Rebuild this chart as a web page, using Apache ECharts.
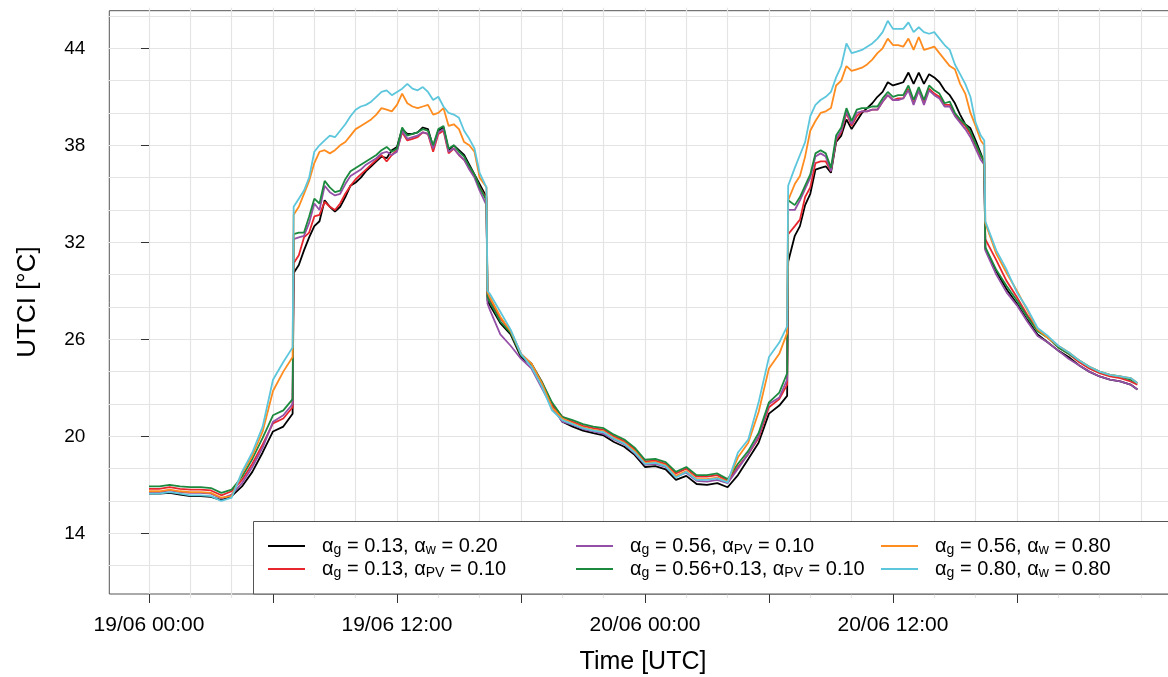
<!DOCTYPE html>
<html><head><meta charset="utf-8">
<script src="https://cdn.jsdelivr.net/npm/echarts@6/dist/echarts.min.js"></script>
<style>html,body{margin:0;padding:0;background:#fff}#c{width:1168px;height:677px}</style>
</head><body><div id="c"></div>
<script>
// ---- data ----
const hours = [
 0,0.5,1,1.5,2,2.5,3,3.5,4,4.5,5,5.5,6,6.5,6.95,
 7,7.25,7.5,7.75,8,8.25,8.5,8.75,9,9.25,9.5,9.75,10,10.25,10.5,10.75,11,11.25,11.5,11.75,12,12.25,12.5,12.75,13,13.25,13.5,13.75,14,14.25,14.5,14.75,15,15.25,15.5,15.75,16,16.33,
 16.38,16.5,17,17.5,18,18.5,19,19.5,20,20.5,21,21.5,22,22.5,23,23.5,24,24.5,25,25.5,26,26.5,27,27.5,28,28.5,29,29.5,30,30.5,30.88,
 30.93,31.25,31.5,31.75,32,32.25,32.5,32.75,33,33.25,33.5,33.75,34,34.25,34.5,34.75,35,35.25,35.5,35.75,36,36.25,36.5,36.75,37,37.25,37.5,37.75,38,38.25,38.5,38.75,39,39.25,39.5,39.75,40,40.25,40.42,
 40.47,41,41.5,42,42.5,43,43.5,44,44.5,45,45.5,46,46.5,47,47.5,47.83
];
const tickHours = [0,6,12,18,24,30,36,42];
const labelHours = [0,12,24,36];
const tickLabels = ['19/06 00:00','19/06 12:00','20/06 00:00','20/06 12:00'];
const yTicks = [14,20,26,32,38,44];
const seriesNames = [
 'α{s|g} = 0.13, α{s|w} = 0.20',
 'α{s|g} = 0.13, α{s|PV} = 0.10',
 'α{s|g} = 0.56, α{s|PV} = 0.10',
 'α{s|g} = 0.56+0.13, α{s|PV} = 0.10',
 'α{s|g} = 0.56, α{s|w} = 0.80',
 'α{s|g} = 0.80, α{s|w} = 0.80'
];
const black = [
 16.45,16.45,16.5,16.4,16.3,16.3,16.25,16.05,16.3,16.9,17.8,19.0,20.3,20.6,21.4,
 30.1,30.6,31.5,32.3,33.0,33.3,34.6,34.2,33.9,34.2,34.8,35.5,35.7,36.0,36.4,36.7,37.0,37.3,37.2,37.7,37.9,39.0,38.7,38.7,38.8,39.1,39.0,37.9,38.9,39.1,37.7,38.0,37.7,37.4,36.8,36.2,35.6,34.8,
 28.4,28.1,27.0,26.3,24.9,24.4,23.3,21.9,20.9,20.6,20.35,20.2,20.05,19.65,19.35,18.85,18.1,18.15,17.95,17.3,17.55,17.05,17.0,17.1,16.85,17.6,18.6,19.6,21.4,21.9,22.5,
 30.8,32.4,33.0,34.3,35.0,36.5,36.6,36.7,36.3,38.2,38.6,39.6,39.0,39.5,40.0,40.3,40.6,41.0,41.3,41.9,41.7,41.8,41.9,42.5,41.8,42.5,41.8,42.4,42.2,41.9,41.4,41.1,40.6,39.9,39.3,39.05,38.3,37.5,36.9,
 31.6,30.2,29.1,28.2,27.2,26.3,25.8,25.3,24.9,24.4,24.0,23.7,23.5,23.4,23.2,22.9
];
const red = [
 16.75,16.75,16.85,16.75,16.7,16.7,16.65,16.35,16.6,17.3,18.3,19.5,20.8,21.1,21.8,
 30.7,31.2,32.3,32.6,33.6,33.7,34.5,34.2,34.0,34.4,35.0,35.5,35.9,36.2,36.5,36.8,37.1,37.4,37.0,37.4,37.7,38.8,38.3,38.4,38.5,38.8,38.7,37.6,38.7,38.9,37.5,37.8,37.4,37.1,36.6,36.1,35.4,34.7,
 28.7,28.4,27.3,26.5,25.1,24.5,23.4,22.0,21.2,20.9,20.65,20.5,20.4,20.0,19.7,19.2,18.45,18.5,18.3,17.7,18.0,17.5,17.5,17.6,17.25,18.1,18.9,19.9,21.8,22.3,23.2,
 32.5,33.0,33.4,34.8,35.4,36.9,37.0,37.0,36.4,38.3,38.8,40.0,39.2,39.8,40.1,40.1,40.2,40.2,40.7,41.1,40.8,40.9,40.9,41.5,40.6,41.4,40.6,41.5,41.2,41.0,40.5,40.5,39.9,39.5,39.2,38.7,38.0,37.3,37.1,
 32.2,30.9,29.6,28.6,27.5,26.6,26.1,25.5,25.1,24.6,24.2,23.9,23.7,23.6,23.4,23.2
];
const purple = [
 16.55,16.55,16.65,16.55,16.5,16.5,16.45,16.15,16.4,17.1,18.1,19.3,20.9,21.3,22.0,
 32.2,32.3,32.4,33.2,34.4,34.0,35.5,35.1,34.9,35.0,35.6,36.1,36.3,36.5,36.8,37.0,37.2,37.5,37.6,37.4,37.6,38.9,38.4,38.5,38.6,38.8,38.7,37.8,38.8,39.0,37.6,37.8,37.4,37.1,36.5,36.0,35.2,34.3,
 28.2,27.8,26.3,25.6,24.8,24.2,23.0,21.8,20.9,20.7,20.45,20.3,20.15,19.8,19.5,18.95,18.25,18.3,18.1,17.5,17.75,17.25,17.2,17.3,17.1,18.0,18.9,20.0,22.0,22.4,23.5,
 34.0,34.0,34.6,35.3,36.0,37.3,37.5,37.3,36.4,38.4,38.9,40.1,39.3,40.0,40.1,40.1,40.2,40.2,40.7,41.1,40.8,40.8,40.9,41.4,40.5,41.4,40.5,41.4,41.1,40.9,40.4,40.4,39.8,39.4,39.0,38.5,37.8,37.1,36.8,
 31.5,30.0,28.9,28.1,27.1,26.2,25.8,25.3,24.8,24.4,24.0,23.7,23.5,23.4,23.2,22.9
];
const green = [
 16.9,16.9,17.0,16.9,16.85,16.85,16.8,16.5,16.7,17.5,18.6,19.9,21.3,21.6,22.3,
 32.5,32.6,32.6,33.6,34.7,34.4,35.8,35.4,35.1,35.2,35.9,36.4,36.6,36.8,37.0,37.2,37.4,37.7,37.9,37.6,37.8,39.1,38.6,38.7,38.8,39.0,38.9,38.0,39.0,39.2,37.8,38.0,37.6,37.3,36.7,36.2,35.4,34.6,
 28.6,28.3,27.1,26.4,25.0,24.5,23.4,22.1,21.2,21.0,20.75,20.6,20.5,20.1,19.8,19.3,18.55,18.6,18.4,17.8,18.1,17.6,17.6,17.7,17.35,18.3,19.1,20.2,22.1,22.7,23.9,
 34.6,34.3,34.8,35.5,36.2,37.5,37.7,37.5,36.6,38.6,39.1,40.3,39.5,40.2,40.3,40.3,40.4,40.4,40.9,41.3,41.0,41.1,41.1,41.7,40.8,41.6,40.8,41.7,41.4,41.2,40.6,40.7,40.0,39.6,39.3,38.85,38.1,37.4,37.0,
 31.7,30.3,29.3,28.4,27.4,26.5,26.1,25.5,25.1,24.7,24.3,24.0,23.8,23.7,23.5,23.3
];
const orange = [
 16.6,16.6,16.7,16.6,16.55,16.55,16.5,16.2,16.3,17.7,18.8,20.3,22.8,24.0,24.9,
 33.7,34.2,35.0,35.8,36.9,37.6,37.7,37.5,37.7,38.0,38.2,38.6,39.0,39.2,39.4,39.6,39.9,40.3,40.2,40.1,40.5,41.2,40.6,40.4,40.3,40.4,40.5,39.9,40.0,40.3,39.2,39.3,39.0,38.2,38.0,37.6,36.0,35.4,
 28.9,28.6,27.4,26.5,25.1,24.5,23.3,21.8,21.1,20.8,20.55,20.4,20.3,19.9,19.6,19.1,18.35,18.4,18.2,17.55,17.85,17.35,17.35,17.45,17.2,18.7,19.6,21.5,24.2,25.1,26.4,
 34.6,35.6,36.1,37.3,38.9,39.5,40.0,40.1,40.3,41.7,42.0,42.9,42.6,42.7,42.8,43.0,43.3,43.7,44.0,44.6,44.2,44.2,44.1,44.6,43.9,44.7,43.9,44.0,44.1,43.7,43.3,42.9,42.7,41.8,41.2,40.0,39.2,38.3,38.0,
 33.2,31.3,30.1,29.0,27.8,26.6,26.1,25.6,25.2,24.7,24.3,24.0,23.8,23.7,23.6,23.3
];
const cyan = [
 16.45,16.45,16.55,16.45,16.35,16.35,16.3,16.0,16.2,17.8,19.0,20.6,23.5,24.6,25.5,
 34.2,34.7,35.2,36.0,37.6,38.0,38.3,38.6,38.5,38.9,39.3,39.8,40.2,40.4,40.5,40.7,41.0,41.3,41.4,41.1,41.3,41.5,41.8,41.5,41.4,41.6,41.3,40.8,41.0,40.4,40.0,39.9,39.7,38.9,38.4,37.8,36.3,35.4,
 29.0,28.8,27.7,26.6,25.1,24.3,23.1,21.6,21.0,20.75,20.5,20.35,20.25,19.85,19.55,19.0,18.3,18.35,18.15,17.45,17.8,17.3,17.3,17.4,17.15,19.0,19.8,22.1,24.9,25.8,26.8,
 35.5,36.6,37.4,38.2,39.8,40.5,40.8,41.0,41.3,42.2,42.9,44.3,43.7,43.8,43.9,44.1,44.3,44.6,45.0,45.7,45.2,45.2,45.2,45.6,45.0,45.3,45.0,44.9,45.0,44.6,44.2,43.9,43.0,42.4,41.8,41.0,39.4,38.6,38.3,
 33.3,31.5,30.3,28.9,27.9,26.7,26.2,25.6,25.2,24.7,24.3,24.0,23.8,23.7,23.6,23.3
];
const seriesValues = [black, red, purple, green, orange, cyan];
const seriesColors = ['#000000','#E8262D','#9450A6','#1B8A3E','#FF8C1F','#5CC6DC'];

// ---- layout ----
const FONT = '"Liberation Sans", Arial, sans-serif';
const X0 = 149, PXH = 20.665;          // pixel of hour 0, px per hour
const Y14 = 533.3, PXD = 16.167;       // pixel of 14 degC, px per degC
const BOX = {l:109.3, t:10.7, r:1177.3, b:594};
const g0 = {left: X0 - 2*PXH, width: 52*PXH, top: Y14 - (46.5-14)*PXD, height: 36.5*PXD};
const xMin1 = (BOX.l - X0)/PXH, xMax1 = (BOX.r - X0)/PXH;
const yMin1 = 14 - (BOX.b - Y14)/PXD, yMax1 = 14 + (Y14 - BOX.t)/PXD;

const chart = echarts.init(document.getElementById('c'), null, {renderer:'canvas'});
const series = seriesValues.map((vals, k) => ({
  name: seriesNames[k], type: 'line', xAxisIndex: 0, yAxisIndex: 0,
  data: hours.map((h, i) => [h, vals[i]]),
  symbol: 'none', lineStyle: {width: 1.8, color: seriesColors[k]}, itemStyle: {color: seriesColors[k]},
  z: 2 + k, animation: false
}));
const legendText = {
  color: '#000', fontFamily: FONT, fontSize: 20, lineHeight: 22, padding: [0,0,0,12],
  rich: { s: {fontFamily: FONT, fontSize: 14, lineHeight: 10, verticalAlign: 'bottom', color: '#000'} }
};
function mkLegend(left, names) {
  return { show: true, orient: 'vertical', left: left, top: 535, padding: 0, itemGap: 1,
    icon: 'rect', itemWidth: 37, itemHeight: 2, data: names, textStyle: legendText, z: 60,
    selectedMode: false, inactiveColor: '#000' };
}
chart.setOption({
  animation: false,
  backgroundColor: '#fff',
  grid: [
    {left: g0.left, top: g0.top, width: g0.width, height: g0.height, show: false,
     containLabel: false, outerBoundsMode: 'none'},
    {left: BOX.l, top: BOX.t, width: BOX.r - BOX.l, height: BOX.b - BOX.t, show: true,
     borderColor: '#555', borderWidth: 1, backgroundColor: 'transparent',
     containLabel: false, outerBoundsMode: 'none'}
  ],
  xAxis: [
    {type: 'value', gridIndex: 0, min: -2, max: 50, interval: 2,
     axisLine: {show: false}, axisTick: {show: false}, axisLabel: {show: false},
     splitLine: {show: true, showMinLine: false, showMaxLine: false, lineStyle: {color: '#e4e4e4', width: 1.2}}},
    {type: 'value', gridIndex: 1, min: xMin1, max: xMax1, position: 'bottom',
     axisLine: {show: false}, splitLine: {show: false},
     axisTick: {show: true, length: 9, customValues: tickHours, lineStyle: {color: '#333', width: 1}},
     axisLabel: {show: true, customValues: labelHours, margin: 21, color: '#000', fontFamily: FONT, fontSize: 21,
       formatter: v => { const i = labelHours.indexOf(Math.round(v)); return i >= 0 ? tickLabels[i] : ''; }}}
  ],
  yAxis: [
    {type: 'value', gridIndex: 0, min: 10, max: 46.5, interval: 2,
     axisLine: {show: false}, axisTick: {show: false}, axisLabel: {show: false},
     splitLine: {show: true, showMinLine: false, showMaxLine: false, lineStyle: {color: '#e4e4e4', width: 1.2}}},
    {type: 'value', gridIndex: 1, min: yMin1, max: yMax1, position: 'left',
     axisLine: {show: false}, splitLine: {show: false},
     axisTick: {show: true, length: 8, customValues: yTicks, lineStyle: {color: '#333', width: 1}},
     axisLabel: {show: true, customValues: yTicks, margin: 24, color: '#000', fontFamily: FONT, fontSize: 19,
       formatter: v => String(Math.round(v))}}
  ],
  legend: [
    mkLegend(268, [seriesNames[0], seriesNames[1]]),
    mkLegend(576, [seriesNames[2], seriesNames[3]]),
    mkLegend(881, [seriesNames[4], seriesNames[5]])
  ],
  graphic: [
    {type: 'rect', z: 50, shape: {x: 253.5, y: 521.5, width: 1000, height: 72.5},
     style: {fill: '#fff', stroke: '#555', lineWidth: 1}},
    {type: 'text', z: 50, x: 643, y: 662,
     style: {text: 'Time [UTC]', fill: '#000', font: '25px ' + FONT, textAlign: 'center', textVerticalAlign: 'middle'}},
    {type: 'text', z: 50, x: 28, y: 302, rotation: Math.PI/2,
     style: {text: 'UTCI [°C]', fill: '#000', font: '26px ' + FONT, textAlign: 'center', textVerticalAlign: 'middle'}}
  ],
  series: series
});
</script></body></html>
